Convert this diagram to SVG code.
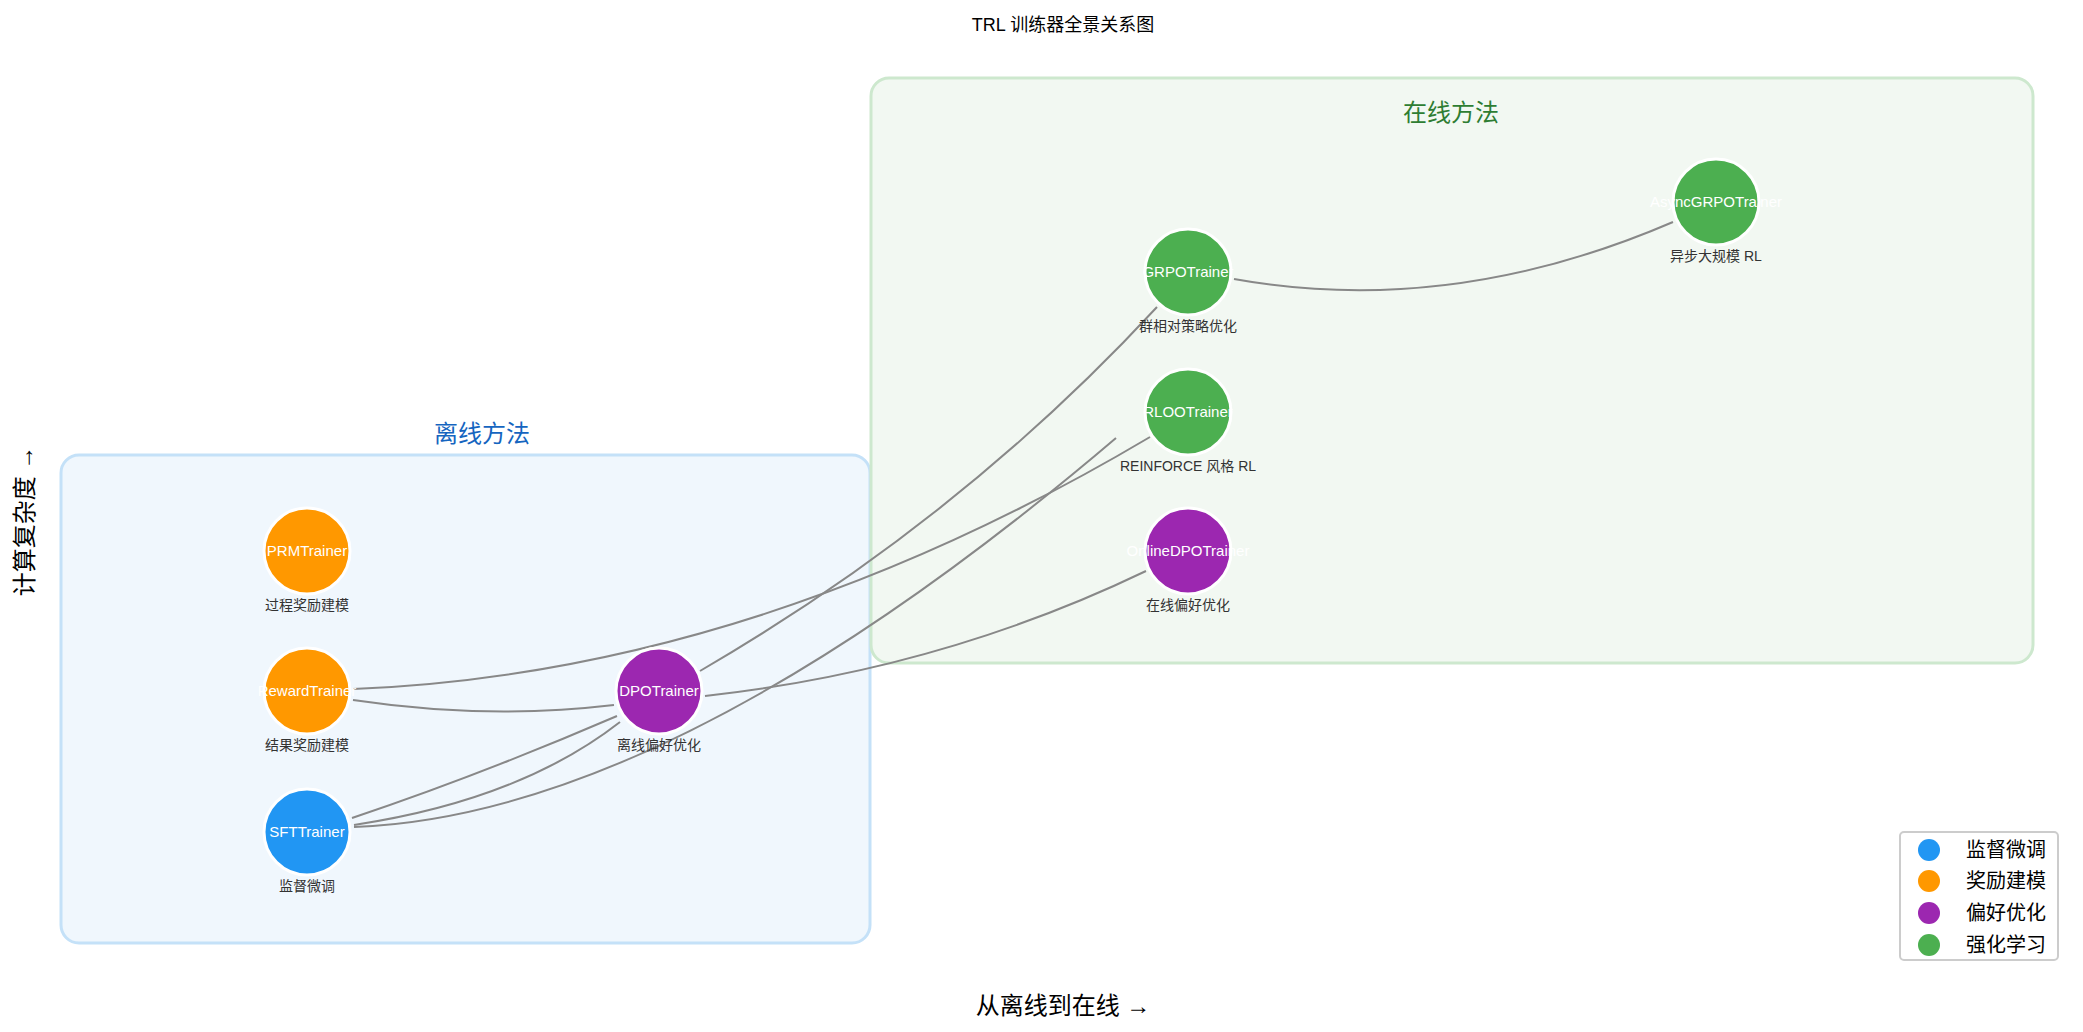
<svg xmlns="http://www.w3.org/2000/svg" width="2083" height="1032" viewBox="0 0 2083 1032">
<style>
text{font-family:"Liberation Sans","Noto Sans CJK SC",sans-serif}
.n{stroke:#fff;stroke-width:3}
.t{fill:#fff;font-size:15px;text-anchor:middle}
.s{fill:#333;font-size:14px;text-anchor:middle}
.e{fill:none;stroke:#888;stroke-width:2}
.lg{font-size:20px;fill:#000}
</style>
<rect width="2083" height="1032" fill="#fff"/>
<text x="1063" y="31" font-size="18" text-anchor="middle">TRL 训练器全景关系图</text>
<g id="offline">
<rect x="61" y="455" width="809" height="488" rx="18" fill="#f0f7fd" stroke="#c4e1f8" stroke-width="3"/>
<text x="482" y="442" font-size="24" fill="#1565c0" text-anchor="middle">离线方法</text>
</g>
<g id="online">
<rect x="871" y="78" width="1162" height="585" rx="18" fill="#f1f8f1" stroke="#cde8ce" stroke-width="3" fill-opacity="0.95"/>
<text x="1451" y="121" font-size="24" fill="#2e7d32" text-anchor="middle">在线方法</text>
</g>
<g id="connectors">
<path class="e" d="M352,818 Q480,775 617,716"/>
<path class="e" d="M354,825 Q520,800 620,722"/>
<path class="e" d="M354,827 Q673,815 1116,438"/>
<path class="e" d="M353,700 Q487,720 614,705"/>
<path class="e" d="M353,689 Q752,673 1150,437"/>
<path class="e" d="M700,671 Q960,520 1157,307"/>
<path class="e" d="M705,696 Q940,670 1146,571"/>
<path class="e" d="M1234,279 Q1450,318 1673,222"/>
</g>
<g id="PRMTrainer"><circle class="n" cx="307" cy="551" r="43" fill="#ff9800"/><text class="t" x="307" y="556">PRMTrainer</text><text class="s" x="307" y="610">过程奖励建模</text></g>
<g id="RewardTrainer"><circle class="n" cx="307" cy="691" r="43" fill="#ff9800"/><text class="t" x="307" y="696">RewardTrainer</text><text class="s" x="307" y="750">结果奖励建模</text></g>
<g id="SFTTrainer"><circle class="n" cx="307" cy="832" r="43" fill="#2196f3"/><text class="t" x="307" y="837">SFTTrainer</text><text class="s" x="307" y="891">监督微调</text></g>
<g id="DPOTrainer"><circle class="n" cx="659" cy="691" r="43" fill="#9c27b0"/><text class="t" x="659" y="696">DPOTrainer</text><text class="s" x="659" y="750">离线偏好优化</text></g>
<g id="GRPOTrainer"><circle class="n" cx="1188" cy="272" r="43" fill="#4caf50"/><text class="t" x="1188" y="277">GRPOTrainer</text><text class="s" x="1188" y="331">群相对策略优化</text></g>
<g id="RLOOTrainer"><circle class="n" cx="1188" cy="412" r="43" fill="#4caf50"/><text class="t" x="1188" y="417">RLOOTrainer</text><text class="s" x="1188" y="471">REINFORCE 风格 RL</text></g>
<g id="OnlineDPOTrainer"><circle class="n" cx="1188" cy="551" r="43" fill="#9c27b0"/><text class="t" x="1188" y="556">OnlineDPOTrainer</text><text class="s" x="1188" y="610">在线偏好优化</text></g>
<g id="AsyncGRPOTrainer"><circle class="n" cx="1716" cy="202" r="43" fill="#4caf50"/><text class="t" x="1716" y="207">AsyncGRPOTrainer</text><text class="s" x="1716" y="261">异步大规模 RL</text></g>
<text x="1063" y="1014" font-size="24" text-anchor="middle">从离线到在线 →</text>
<text transform="translate(33,521) rotate(-90)" font-size="24" text-anchor="middle">计算复杂度 →</text>
<g id="legend">
<rect x="1900" y="832" width="158" height="128" rx="4" fill="#fff" stroke="#ccc" stroke-width="2"/>
<circle cx="1929" cy="850" r="11" fill="#2196f3"/><text class="lg" x="1966" y="857">监督微调</text>
<circle cx="1929" cy="881" r="11" fill="#ff9800"/><text class="lg" x="1966" y="888">奖励建模</text>
<circle cx="1929" cy="913" r="11" fill="#9c27b0"/><text class="lg" x="1966" y="920">偏好优化</text>
<circle cx="1929" cy="945" r="11" fill="#4caf50"/><text class="lg" x="1966" y="952">强化学习</text>
</g>
</svg>
